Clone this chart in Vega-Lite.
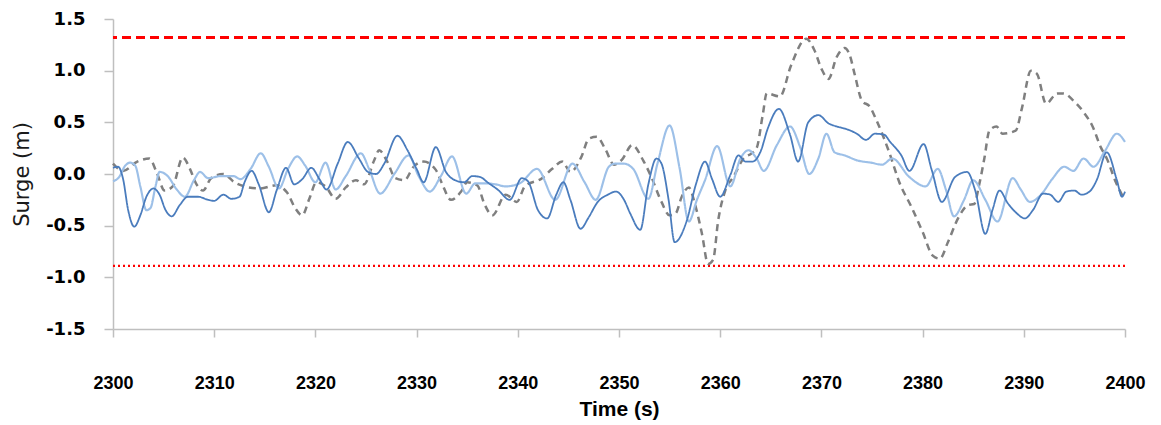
{
  "$schema": "https://vega.github.io/schema/vega-lite/v6.json",
  "width": 1012,
  "height": 310,
  "autosize": {"type": "none"},
  "padding": {"left": 113, "top": 19, "right": 36, "bottom": 96},
  "background": "white",
  "config": {"view": {"stroke": null}},
  "datasets": {
    "series": [
      {"t":2300.0,"v":0.10,"s":"G"},{"t":2301.0,"v":0.03,"s":"G"},{"t":2302.4,"v":0.12,"s":"G"},{"t":2303.6,"v":0.15,"s":"G"},{"t":2304.3,"v":0.02,"s":"G"},{"t":2305.1,"v":-0.16,"s":"G"},{"t":2305.9,"v":-0.12,"s":"G"},{"t":2306.9,"v":0.16,"s":"G"},{"t":2307.6,"v":0.05,"s":"G"},{"t":2308.2,"v":-0.09,"s":"G"},{"t":2308.9,"v":-0.16,"s":"G"},{"t":2309.7,"v":-0.04,"s":"G"},{"t":2310.9,"v":0.00,"s":"G"},{"t":2312.0,"v":-0.08,"s":"G"},{"t":2313.0,"v":-0.12,"s":"G"},{"t":2314.5,"v":-0.14,"s":"G"},{"t":2316.1,"v":-0.11,"s":"G"},{"t":2317.2,"v":-0.18,"s":"G"},{"t":2318.0,"v":-0.33,"s":"G"},{"t":2318.7,"v":-0.40,"s":"G"},{"t":2319.4,"v":-0.24,"s":"G"},{"t":2320.1,"v":-0.08,"s":"G"},{"t":2321.0,"v":-0.12,"s":"G"},{"t":2322.0,"v":-0.24,"s":"G"},{"t":2323.0,"v":-0.13,"s":"G"},{"t":2324.0,"v":-0.06,"s":"G"},{"t":2324.8,"v":-0.10,"s":"G"},{"t":2325.8,"v":0.13,"s":"G"},{"t":2326.3,"v":0.23,"s":"G"},{"t":2327.1,"v":0.12,"s":"G"},{"t":2327.9,"v":-0.04,"s":"G"},{"t":2328.8,"v":-0.06,"s":"G"},{"t":2329.7,"v":0.07,"s":"G"},{"t":2330.7,"v":0.12,"s":"G"},{"t":2331.9,"v":0.04,"s":"G"},{"t":2332.5,"v":-0.09,"s":"G"},{"t":2333.4,"v":-0.25,"s":"G"},{"t":2334.4,"v":-0.17,"s":"G"},{"t":2335.0,"v":-0.08,"s":"G"},{"t":2336.0,"v":-0.11,"s":"G"},{"t":2336.7,"v":-0.29,"s":"G"},{"t":2337.5,"v":-0.40,"s":"G"},{"t":2338.8,"v":-0.20,"s":"G"},{"t":2339.9,"v":-0.27,"s":"G"},{"t":2340.7,"v":-0.12,"s":"G"},{"t":2342.4,"v":-0.04,"s":"G"},{"t":2343.4,"v":0.05,"s":"G"},{"t":2344.4,"v":0.12,"s":"G"},{"t":2345.2,"v":0.02,"s":"G"},{"t":2346.3,"v":0.17,"s":"G"},{"t":2347.0,"v":0.34,"s":"G"},{"t":2347.8,"v":0.36,"s":"G"},{"t":2348.7,"v":0.23,"s":"G"},{"t":2349.5,"v":0.09,"s":"G"},{"t":2350.3,"v":0.14,"s":"G"},{"t":2351.3,"v":0.28,"s":"G"},{"t":2352.4,"v":0.13,"s":"G"},{"t":2353.2,"v":-0.03,"s":"G"},{"t":2354.2,"v":-0.27,"s":"G"},{"t":2355.0,"v":-0.40,"s":"G"},{"t":2355.6,"v":-0.38,"s":"G"},{"t":2356.2,"v":-0.22,"s":"G"},{"t":2356.9,"v":-0.13,"s":"G"},{"t":2357.5,"v":-0.29,"s":"G"},{"t":2358.2,"v":-0.58,"s":"G"},{"t":2358.8,"v":-0.87,"s":"G"},{"t":2359.3,"v":-0.83,"s":"G"},{"t":2359.8,"v":-0.45,"s":"G"},{"t":2360.5,"v":-0.16,"s":"G"},{"t":2361.3,"v":-0.03,"s":"G"},{"t":2362.3,"v":0.15,"s":"G"},{"t":2363.1,"v":0.20,"s":"G"},{"t":2363.6,"v":0.25,"s":"G"},{"t":2364.2,"v":0.57,"s":"G"},{"t":2364.6,"v":0.78,"s":"G"},{"t":2365.9,"v":0.75,"s":"G"},{"t":2367.0,"v":1.05,"s":"G"},{"t":2368.5,"v":1.31,"s":"G"},{"t":2369.3,"v":1.20,"s":"G"},{"t":2370.0,"v":1.02,"s":"G"},{"t":2370.7,"v":0.92,"s":"G"},{"t":2371.5,"v":1.13,"s":"G"},{"t":2372.3,"v":1.22,"s":"G"},{"t":2372.8,"v":1.15,"s":"G"},{"t":2373.3,"v":0.96,"s":"G"},{"t":2374.0,"v":0.71,"s":"G"},{"t":2374.8,"v":0.65,"s":"G"},{"t":2375.4,"v":0.53,"s":"G"},{"t":2376.7,"v":0.21,"s":"G"},{"t":2377.7,"v":-0.08,"s":"G"},{"t":2378.9,"v":-0.32,"s":"G"},{"t":2380.0,"v":-0.56,"s":"G"},{"t":2381.0,"v":-0.79,"s":"G"},{"t":2381.7,"v":-0.82,"s":"G"},{"t":2382.5,"v":-0.66,"s":"G"},{"t":2383.5,"v":-0.43,"s":"G"},{"t":2384.5,"v":-0.30,"s":"G"},{"t":2385.1,"v":-0.29,"s":"G"},{"t":2385.6,"v":-0.10,"s":"G"},{"t":2386.1,"v":0.15,"s":"G"},{"t":2386.6,"v":0.42,"s":"G"},{"t":2387.3,"v":0.46,"s":"G"},{"t":2387.9,"v":0.39,"s":"G"},{"t":2389.2,"v":0.42,"s":"G"},{"t":2389.8,"v":0.63,"s":"G"},{"t":2390.7,"v":1.00,"s":"G"},{"t":2391.3,"v":0.97,"s":"G"},{"t":2392.2,"v":0.68,"s":"G"},{"t":2393.3,"v":0.78,"s":"G"},{"t":2393.9,"v":0.78,"s":"G"},{"t":2394.9,"v":0.71,"s":"G"},{"t":2395.9,"v":0.60,"s":"G"},{"t":2396.8,"v":0.46,"s":"G"},{"t":2397.6,"v":0.26,"s":"G"},{"t":2398.2,"v":0.15,"s":"G"},{"t":2399.1,"v":-0.08,"s":"G"},{"t":2399.9,"v":-0.24,"s":"G"},

      {"t":2300.0,"v":-0.07,"s":"L"},{"t":2300.6,"v":-0.03,"s":"L"},{"t":2301.2,"v":0.08,"s":"L"},{"t":2301.7,"v":0.11,"s":"L"},{"t":2302.2,"v":0.08,"s":"L"},{"t":2302.7,"v":-0.12,"s":"L"},{"t":2303.3,"v":-0.35,"s":"L"},{"t":2303.7,"v":-0.33,"s":"L"},{"t":2304.2,"v":-0.12,"s":"L"},{"t":2304.6,"v":0.02,"s":"L"},{"t":2305.4,"v":-0.02,"s":"L"},{"t":2306.3,"v":-0.15,"s":"L"},{"t":2307.1,"v":-0.22,"s":"L"},{"t":2308.0,"v":-0.06,"s":"L"},{"t":2308.6,"v":0.02,"s":"L"},{"t":2309.4,"v":-0.04,"s":"L"},{"t":2310.7,"v":-0.02,"s":"L"},{"t":2311.9,"v":-0.02,"s":"L"},{"t":2312.6,"v":-0.05,"s":"L"},{"t":2313.6,"v":0.05,"s":"L"},{"t":2314.6,"v":0.20,"s":"L"},{"t":2315.4,"v":0.07,"s":"L"},{"t":2316.4,"v":-0.14,"s":"L"},{"t":2317.3,"v":0.05,"s":"L"},{"t":2318.2,"v":0.17,"s":"L"},{"t":2319.0,"v":0.08,"s":"L"},{"t":2320.0,"v":-0.08,"s":"L"},{"t":2321.0,"v":0.11,"s":"L"},{"t":2322.0,"v":-0.15,"s":"L"},{"t":2323.0,"v":-0.02,"s":"L"},{"t":2324.5,"v":0.20,"s":"L"},{"t":2325.3,"v":0.05,"s":"L"},{"t":2326.4,"v":-0.19,"s":"L"},{"t":2327.8,"v":0.00,"s":"L"},{"t":2329.2,"v":0.18,"s":"L"},{"t":2330.2,"v":-0.02,"s":"L"},{"t":2331.3,"v":-0.17,"s":"L"},{"t":2332.4,"v":-0.02,"s":"L"},{"t":2333.5,"v":0.17,"s":"L"},{"t":2334.9,"v":-0.19,"s":"L"},{"t":2335.8,"v":-0.09,"s":"L"},{"t":2336.8,"v":-0.09,"s":"L"},{"t":2337.8,"v":-0.10,"s":"L"},{"t":2338.8,"v":-0.12,"s":"L"},{"t":2340.2,"v":-0.09,"s":"L"},{"t":2341.9,"v":0.05,"s":"L"},{"t":2343.7,"v":-0.25,"s":"L"},{"t":2345.4,"v":0.10,"s":"L"},{"t":2346.6,"v":-0.08,"s":"L"},{"t":2347.7,"v":-0.25,"s":"L"},{"t":2349.0,"v":0.07,"s":"L"},{"t":2349.6,"v":0.10,"s":"L"},{"t":2350.5,"v":0.10,"s":"L"},{"t":2351.4,"v":0.05,"s":"L"},{"t":2352.9,"v":-0.24,"s":"L"},{"t":2353.8,"v":0.10,"s":"L"},{"t":2355.0,"v":0.47,"s":"L"},{"t":2356.0,"v":0.05,"s":"L"},{"t":2356.9,"v":-0.46,"s":"L"},{"t":2357.7,"v":-0.25,"s":"L"},{"t":2358.5,"v":-0.06,"s":"L"},{"t":2359.7,"v":0.27,"s":"L"},{"t":2361.0,"v":-0.12,"s":"L"},{"t":2362.0,"v":0.15,"s":"L"},{"t":2362.8,"v":0.23,"s":"L"},{"t":2363.6,"v":0.15,"s":"L"},{"t":2364.3,"v":0.03,"s":"L"},{"t":2365.6,"v":0.28,"s":"L"},{"t":2366.9,"v":0.46,"s":"L"},{"t":2367.9,"v":0.26,"s":"L"},{"t":2368.8,"v":0.00,"s":"L"},{"t":2369.7,"v":0.15,"s":"L"},{"t":2370.5,"v":0.39,"s":"L"},{"t":2371.3,"v":0.21,"s":"L"},{"t":2372.3,"v":0.18,"s":"L"},{"t":2373.6,"v":0.13,"s":"L"},{"t":2374.9,"v":0.11,"s":"L"},{"t":2376.0,"v":0.09,"s":"L"},{"t":2377.0,"v":0.15,"s":"L"},{"t":2378.7,"v":-0.03,"s":"L"},{"t":2380.3,"v":-0.12,"s":"L"},{"t":2381.5,"v":0.05,"s":"L"},{"t":2382.3,"v":-0.15,"s":"L"},{"t":2383.1,"v":-0.41,"s":"L"},{"t":2384.1,"v":-0.25,"s":"L"},{"t":2385.0,"v":-0.06,"s":"L"},{"t":2386.2,"v":-0.25,"s":"L"},{"t":2387.4,"v":-0.46,"s":"L"},{"t":2388.9,"v":-0.04,"s":"L"},{"t":2389.7,"v":-0.15,"s":"L"},{"t":2390.6,"v":-0.27,"s":"L"},{"t":2391.7,"v":-0.20,"s":"L"},{"t":2392.8,"v":-0.05,"s":"L"},{"t":2394.0,"v":0.07,"s":"L"},{"t":2394.9,"v":0.03,"s":"L"},{"t":2395.9,"v":0.15,"s":"L"},{"t":2396.9,"v":0.07,"s":"L"},{"t":2398.0,"v":0.22,"s":"L"},{"t":2399.2,"v":0.39,"s":"L"},{"t":2400.0,"v":0.31,"s":"L"},

      {"t":2300.0,"v":0.06,"s":"D"},{"t":2300.5,"v":0.07,"s":"D"},{"t":2301.0,"v":-0.05,"s":"D"},{"t":2301.5,"v":-0.35,"s":"D"},{"t":2302.1,"v":-0.51,"s":"D"},{"t":2302.7,"v":-0.40,"s":"D"},{"t":2303.3,"v":-0.22,"s":"D"},{"t":2304.0,"v":-0.14,"s":"D"},{"t":2304.6,"v":-0.20,"s":"D"},{"t":2305.2,"v":-0.35,"s":"D"},{"t":2305.8,"v":-0.41,"s":"D"},{"t":2306.6,"v":-0.30,"s":"D"},{"t":2307.4,"v":-0.22,"s":"D"},{"t":2308.4,"v":-0.22,"s":"D"},{"t":2309.4,"v":-0.25,"s":"D"},{"t":2310.0,"v":-0.26,"s":"D"},{"t":2310.9,"v":-0.20,"s":"D"},{"t":2311.7,"v":-0.24,"s":"D"},{"t":2312.5,"v":-0.22,"s":"D"},{"t":2313.0,"v":-0.08,"s":"D"},{"t":2313.7,"v":0.03,"s":"D"},{"t":2314.4,"v":-0.10,"s":"D"},{"t":2315.4,"v":-0.37,"s":"D"},{"t":2316.2,"v":-0.15,"s":"D"},{"t":2317.1,"v":0.06,"s":"D"},{"t":2317.9,"v":-0.10,"s":"D"},{"t":2318.7,"v":-0.05,"s":"D"},{"t":2319.6,"v":0.06,"s":"D"},{"t":2320.4,"v":-0.05,"s":"D"},{"t":2321.1,"v":-0.15,"s":"D"},{"t":2322.2,"v":0.10,"s":"D"},{"t":2323.2,"v":0.31,"s":"D"},{"t":2324.3,"v":0.15,"s":"D"},{"t":2325.2,"v":0.02,"s":"D"},{"t":2326.0,"v":0.00,"s":"D"},{"t":2326.8,"v":0.10,"s":"D"},{"t":2328.1,"v":0.37,"s":"D"},{"t":2329.1,"v":0.23,"s":"D"},{"t":2330.0,"v":0.05,"s":"D"},{"t":2330.7,"v":-0.08,"s":"D"},{"t":2331.9,"v":0.26,"s":"D"},{"t":2332.9,"v":0.02,"s":"D"},{"t":2333.6,"v":-0.05,"s":"D"},{"t":2334.7,"v":-0.08,"s":"D"},{"t":2335.5,"v":-0.02,"s":"D"},{"t":2336.3,"v":-0.03,"s":"D"},{"t":2337.0,"v":-0.08,"s":"D"},{"t":2338.0,"v":-0.15,"s":"D"},{"t":2339.2,"v":-0.25,"s":"D"},{"t":2340.4,"v":-0.04,"s":"D"},{"t":2341.0,"v":-0.07,"s":"D"},{"t":2342.0,"v":-0.35,"s":"D"},{"t":2342.9,"v":-0.43,"s":"D"},{"t":2343.8,"v":-0.20,"s":"D"},{"t":2344.5,"v":-0.08,"s":"D"},{"t":2345.2,"v":-0.25,"s":"D"},{"t":2346.2,"v":-0.53,"s":"D"},{"t":2347.0,"v":-0.42,"s":"D"},{"t":2347.9,"v":-0.27,"s":"D"},{"t":2348.9,"v":-0.20,"s":"D"},{"t":2349.7,"v":-0.17,"s":"D"},{"t":2350.5,"v":-0.25,"s":"D"},{"t":2351.1,"v":-0.38,"s":"D"},{"t":2352.1,"v":-0.54,"s":"D"},{"t":2352.9,"v":-0.10,"s":"D"},{"t":2353.7,"v":0.15,"s":"D"},{"t":2354.2,"v":0.10,"s":"D"},{"t":2354.9,"v":-0.25,"s":"D"},{"t":2355.5,"v":-0.66,"s":"D"},{"t":2356.7,"v":-0.45,"s":"D"},{"t":2357.6,"v":-0.10,"s":"D"},{"t":2358.5,"v":0.12,"s":"D"},{"t":2359.2,"v":-0.05,"s":"D"},{"t":2360.0,"v":-0.22,"s":"D"},{"t":2361.0,"v":-0.01,"s":"D"},{"t":2361.8,"v":0.18,"s":"D"},{"t":2362.5,"v":0.12,"s":"D"},{"t":2363.2,"v":0.12,"s":"D"},{"t":2364.0,"v":0.22,"s":"D"},{"t":2364.7,"v":0.44,"s":"D"},{"t":2365.8,"v":0.63,"s":"D"},{"t":2366.9,"v":0.38,"s":"D"},{"t":2367.7,"v":0.12,"s":"D"},{"t":2368.7,"v":0.50,"s":"D"},{"t":2369.7,"v":0.57,"s":"D"},{"t":2370.7,"v":0.49,"s":"D"},{"t":2371.5,"v":0.46,"s":"D"},{"t":2372.3,"v":0.44,"s":"D"},{"t":2373.5,"v":0.39,"s":"D"},{"t":2374.4,"v":0.33,"s":"D"},{"t":2375.3,"v":0.39,"s":"D"},{"t":2376.2,"v":0.38,"s":"D"},{"t":2376.8,"v":0.31,"s":"D"},{"t":2377.9,"v":0.18,"s":"D"},{"t":2378.7,"v":0.03,"s":"D"},{"t":2380.1,"v":0.29,"s":"D"},{"t":2380.9,"v":0.04,"s":"D"},{"t":2381.9,"v":-0.27,"s":"D"},{"t":2383.2,"v":-0.03,"s":"D"},{"t":2384.4,"v":0.02,"s":"D"},{"t":2385.2,"v":-0.16,"s":"D"},{"t":2386.2,"v":-0.58,"s":"D"},{"t":2386.9,"v":-0.35,"s":"D"},{"t":2387.6,"v":-0.16,"s":"D"},{"t":2388.4,"v":-0.28,"s":"D"},{"t":2389.3,"v":-0.38,"s":"D"},{"t":2390.1,"v":-0.43,"s":"D"},{"t":2390.9,"v":-0.35,"s":"D"},{"t":2391.9,"v":-0.19,"s":"D"},{"t":2392.6,"v":-0.20,"s":"D"},{"t":2393.4,"v":-0.27,"s":"D"},{"t":2394.2,"v":-0.17,"s":"D"},{"t":2395.0,"v":-0.16,"s":"D"},{"t":2395.7,"v":-0.20,"s":"D"},{"t":2396.5,"v":-0.17,"s":"D"},{"t":2397.2,"v":-0.06,"s":"D"},{"t":2398.2,"v":0.21,"s":"D"},{"t":2399.2,"v":-0.06,"s":"D"},{"t":2399.7,"v":-0.22,"s":"D"},{"t":2400.0,"v":-0.17,"s":"D"}
    ],
    "limits": [
      {"y": 1.32, "kind": "upper"},
      {"y": -0.89, "kind": "lower"}
    ]
  },
  "layer": [
    {
      "data": {"name": "limits"},
      "mark": {"type": "rule", "color": "#ff0000"},
      "encoding": {
        "y": {"field": "y", "type": "quantitative", "scale": {"domain": [-1.5, 1.5], "nice": false, "zero": false}},
        "strokeDash": {"field": "kind", "type": "nominal", "scale": {"domain": ["upper", "lower"], "range": [[9, 5], [2, 3]]}, "legend": null},
        "strokeWidth": {"field": "kind", "type": "nominal", "scale": {"domain": ["upper", "lower"], "range": [3, 2.2]}, "legend": null}
      }
    },
    {
      "data": {"name": "series"},
      "mark": {"type": "line", "interpolate": "monotone"},
      "encoding": {
        "x": {
          "field": "t", "type": "quantitative",
          "scale": {"domain": [2300, 2400], "nice": false, "zero": false},
          "axis": {
            "title": "Time (s)",
            "values": [2300, 2310, 2320, 2330, 2340, 2350, 2360, 2370, 2380, 2390, 2400],
            "format": "d",
            "grid": false,
            "domainColor": "#bfbfbf", "domainWidth": 1.5,
            "tickColor": "#bfbfbf", "tickWidth": 1.5, "tickSize": 8,
            "labelFont": "Liberation Sans", "labelFontSize": 18, "labelFontWeight": "bold", "labelColor": "#000000",
            "labelPadding": 37, "labelFlush": false,
            "titleFont": "Liberation Sans", "titleFontSize": 21, "titleFontWeight": "bold", "titleColor": "#000000",
            "titleBaseline": "top", "titleY": 69
          }
        },
        "y": {
          "field": "v", "type": "quantitative",
          "scale": {"domain": [-1.5, 1.5], "nice": false, "zero": false},
          "axis": {
            "title": "Surge (m)",
            "values": [-1.5, -1, -0.5, 0, 0.5, 1, 1.5],
            "labelExpr": "replace(format(datum.value, '.1f'), '−', '-')",
            "grid": false,
            "domainColor": "#bfbfbf", "domainWidth": 1.5,
            "tickColor": "#bfbfbf", "tickWidth": 1.5, "tickSize": 9,
            "labelFont": "DejaVu Sans", "labelFontSize": 18, "labelFontWeight": "bold", "labelColor": "#000000",
            "labelPadding": 19, "labelFlush": false,
            "titleFont": "DejaVu Sans", "titleFontSize": 21, "titleFontWeight": "normal", "titleColor": "#1a1a1a",
            "titleX": -91, "titleY": 155, "titleAlign": "center", "titleBaseline": "middle"
          }
        },
        "color": {"field": "s", "type": "nominal", "scale": {"domain": ["G", "L", "D"], "range": ["#7f7f7f", "#9dc0e8", "#4a7cbd"]}, "legend": null},
        "strokeDash": {"field": "s", "type": "nominal", "scale": {"domain": ["G", "L", "D"], "range": [[7, 5], [1, 0], [1, 0]]}, "legend": null},
        "strokeWidth": {"field": "s", "type": "nominal", "scale": {"domain": ["G", "L", "D"], "range": [2.5, 1.8, 1.8]}, "legend": null}
      }
    }
  ],
  "resolve": {"scale": {"strokeDash": "independent", "strokeWidth": "independent"}}
}
